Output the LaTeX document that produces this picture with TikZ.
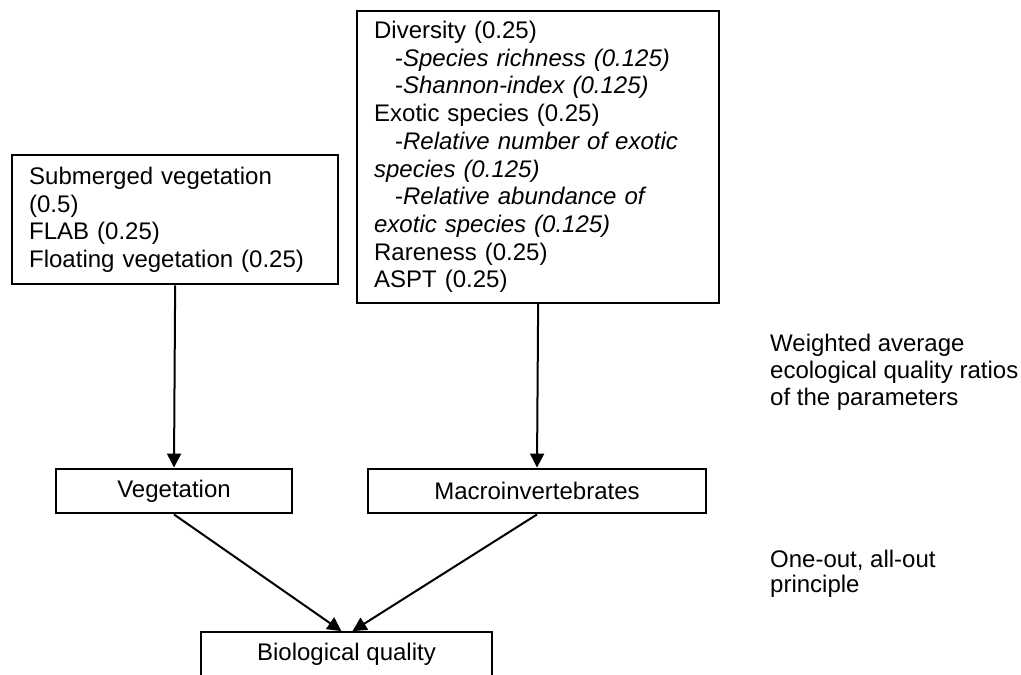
\documentclass[tikz,border=0pt]{standalone}
\usepackage{fontspec}
\setmainfont{Liberation Sans}
\usetikzlibrary{arrows.meta,calc}
\begin{document}
\begin{tikzpicture}[x=1pt,y=-1pt,
  font=\fontsize{24}{27.7}\selectfont,
  box/.style={draw, line width=2.3pt, inner sep=0pt, align=left},
  smallbox/.style={draw, line width=2.3pt, inner sep=0pt, minimum height=44.6pt, align=center},
  conn/.style={-{Triangle[length=14pt,width=14pt]}, line width=2pt},
  note/.style={anchor=north west, inner sep=0pt, align=left}]
\useasboundingbox (0,0) rectangle (1021,675);

% parameter boxes
\node[box, anchor=north west, minimum width=326pt, minimum height=129pt, text width=292pt] (vp) at (11,154)
  {Submerged vegetation\\(0.5)\\FLAB (0.25)\\Floating vegetation (0.25)};

\node[box, anchor=north west, minimum width=362pt, minimum height=291.7pt, text width=328pt] (mp) at (356,10)
  {Diversity (0.25)\\
   \hspace*{21pt}-\textit{Species richness (0.125)}\\
   \hspace*{21pt}-\textit{Shannon-index (0.125)}\\
   Exotic species (0.25)\\
   \hspace*{21pt}-\textit{Relative number of exotic}\\
   \textit{species (0.125)}\\
   \hspace*{21pt}-\textit{Relative abundance of}\\
   \textit{exotic species (0.125)}\\
   Rareness (0.25)\\
   ASPT (0.25)};

% group boxes
\node[smallbox, minimum width=236.3pt] (veg) at (174,491) {Vegetation};
\node[smallbox, minimum width=337.4pt] (mac) at (537,491) {Macroinvertebrates};
\node[smallbox, minimum width=291.6pt] (bio) at (346.5,654.6) {Biological quality};

% connectors
\draw[conn] (vp.south) -- (veg.north);
\draw[conn] (mp.south) -- (mac.north);
\draw[conn] (veg.south) -- ($(bio.north)+(-5,0)$);
\draw[conn] (mac.south) -- ($(bio.north)+(6,0)$);

% annotations
\node[note, font=\fontsize{24}{26.8}\selectfont] (wa) at (770,332.9)
  {\strut Weighted average\\ecological quality ratios\\of the parameters};
\node[note, font=\fontsize{24}{25}\selectfont] (oo) at (770,550.2)
  {\strut One-out, all-out\\principle};
\end{tikzpicture}
\end{document}
